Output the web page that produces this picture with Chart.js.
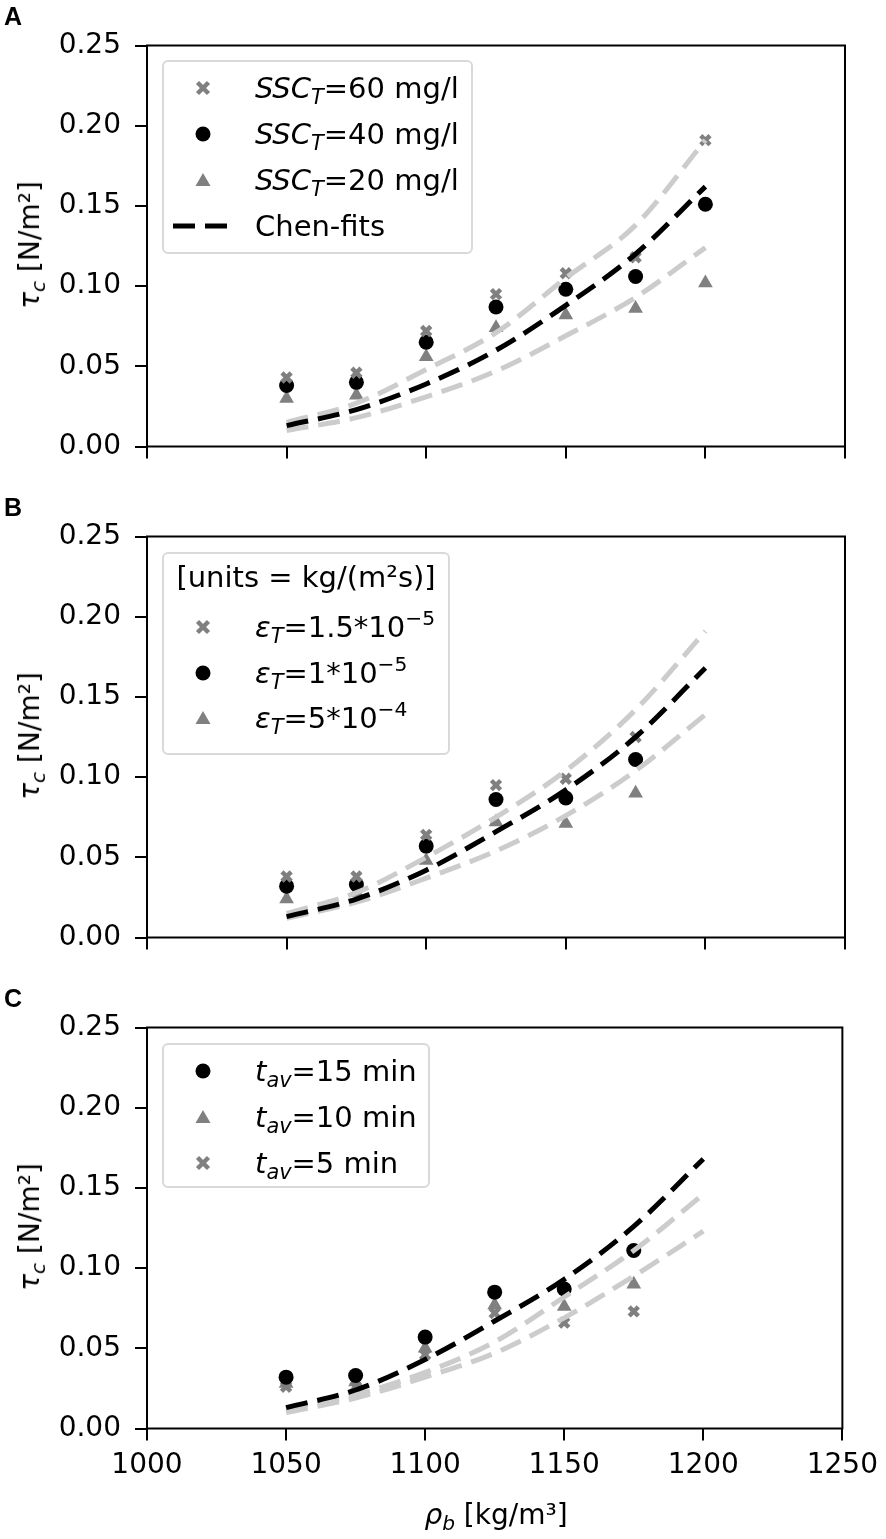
<!DOCTYPE html>
<html lang="en">
  <head>
    <meta charset="utf-8" />
    <title>Critical shear stress vs bulk density</title>
    <style>
      * {
        margin: 0;
        padding: 0;
      }
      body {
        width: 886px;
        height: 1539px;
        position: relative;
        background: #fff;
        color: #000;
        font-family: "DejaVu Sans", sans-serif;
        overflow: hidden;
      }
      .panel {
        position: absolute;
        left: 0;
        width: 886px;
      }
      .letter {
        position: absolute;
        left: 4px;
        font: bold 25px "Liberation Sans", Arial, sans-serif;
        line-height: 1;
      }
      .ytitle {
        position: absolute;
        left: 30px;
        font-size: 28px;
        line-height: 1;
        white-space: nowrap;
        transform: translate(-50%, -50%) rotate(-90deg);
      }
      .xtitle {
        position: absolute;
        left: 496px;
        top: 1515px;
        font-size: 28px;
        line-height: 1;
        white-space: nowrap;
        transform: translate(-50%, -50%);
      }
      .legend {
        position: absolute;
        left: 162px;
        box-sizing: border-box;
        border: 2px solid #d9d9d9;
        border-radius: 6px;
        background: rgba(255, 255, 255, 0.8);
      }
      .row {
        position: absolute;
        left: 0;
        width: 100%;
        height: 46px;
        font-size: 29px;
        white-space: nowrap;
      }
      .mk {
        position: absolute;
        left: 39px;
        top: 23px;
        transform: translate(-50%, -50%);
        line-height: 0;
      }
      .txt {
        position: absolute;
        left: 91px;
        top: 23px;
        line-height: 1;
        transform: translateY(-50%);
      }
      .ttl {
        position: absolute;
        left: 0;
        width: 100%;
        top: 23px;
        text-align: center;
        line-height: 1;
        transform: translateY(-50%);
      }
      sub {
        font-size: 0.72em;
        vertical-align: -0.3em;
        line-height: 0;
      }
      sup {
        font-size: 0.7em;
        vertical-align: 0.55em;
        line-height: 0;
      }
    </style>
  </head>
  <body>
    <div class="panel" style="top: 0; height: 491px"><canvas id="chartA"></canvas></div>
    <div class="panel" style="top: 491px; height: 491px"><canvas id="chartB"></canvas></div>
    <div class="panel" style="top: 982px; height: 557px"><canvas id="chartC"></canvas></div>

    <div class="letter" style="top: 4px">A</div>
    <div class="letter" style="top: 495px">B</div>
    <div class="letter" style="top: 986px">C</div>

    <div class="ytitle" style="top: 245px"><i>τ<sub>c</sub></i> [N/m²]</div>
    <div class="ytitle" style="top: 736px"><i>τ<sub>c</sub></i> [N/m²]</div>
    <div class="ytitle" style="top: 1227px"><i>τ<sub>c</sub></i> [N/m²]</div>
    <div class="xtitle"><i>ρ<sub>b</sub></i> [kg/m³]</div>

    <!-- legend A -->
    <div class="legend" style="top: 60px; width: 311px; height: 194px">
      <div class="row" style="top: 3px">
        <span class="mk"><svg width="16" height="16"><path d="M2.5 2.5L13.5 13.5M13.5 2.5L2.5 13.5" stroke="#808080" stroke-width="4.5" /></svg></span>
        <span class="txt"><i>SSC<sub>T</sub></i>=60 mg/l</span>
      </div>
      <div class="row" style="top: 49px">
        <span class="mk"><svg width="16" height="16"><circle cx="8" cy="8" r="7.5" fill="#000" /></svg></span>
        <span class="txt"><i>SSC<sub>T</sub></i>=40 mg/l</span>
      </div>
      <div class="row" style="top: 95px">
        <span class="mk"><svg width="16" height="16"><polygon points="8,1 15.5,14 0.5,14" fill="#808080" /></svg></span>
        <span class="txt"><i>SSC<sub>T</sub></i>=20 mg/l</span>
      </div>
      <div class="row" style="top: 141px">
        <span class="mk"><svg width="60" height="10"><line x1="0" y1="5" x2="58" y2="5" stroke="#000" stroke-width="5" stroke-dasharray="22 10" /></svg></span>
        <span class="txt">Chen-fits</span>
      </div>
    </div>

    <!-- legend B -->
    <div class="legend" style="top: 552px; width: 288px; height: 203px">
      <div class="row" style="top: 0px">
        <span class="ttl">[units = kg/(m²s)]</span>
      </div>
      <div class="row" style="top: 50px">
        <span class="mk"><svg width="16" height="16"><path d="M2.5 2.5L13.5 13.5M13.5 2.5L2.5 13.5" stroke="#808080" stroke-width="4.5" /></svg></span>
        <span class="txt"><i>ε<sub>T</sub></i>=1.5*10<sup>−5</sup></span>
      </div>
      <div class="row" style="top: 96px">
        <span class="mk"><svg width="16" height="16"><circle cx="8" cy="8" r="7.5" fill="#000" /></svg></span>
        <span class="txt"><i>ε<sub>T</sub></i>=1*10<sup>−5</sup></span>
      </div>
      <div class="row" style="top: 141px">
        <span class="mk"><svg width="16" height="16"><polygon points="8,1 15.5,14 0.5,14" fill="#808080" /></svg></span>
        <span class="txt"><i>ε<sub>T</sub></i>=5*10<sup>−4</sup></span>
      </div>
    </div>

    <!-- legend C -->
    <div class="legend" style="top: 1043px; width: 268px; height: 145px">
      <div class="row" style="top: 3px">
        <span class="mk"><svg width="16" height="16"><circle cx="8" cy="8" r="7.5" fill="#000" /></svg></span>
        <span class="txt"><i>t<sub>av</sub></i>=15 min</span>
      </div>
      <div class="row" style="top: 49px">
        <span class="mk"><svg width="16" height="16"><polygon points="8,1 15.5,14 0.5,14" fill="#808080" /></svg></span>
        <span class="txt"><i>t<sub>av</sub></i>=10 min</span>
      </div>
      <div class="row" style="top: 95px">
        <span class="mk"><svg width="16" height="16"><path d="M2.5 2.5L13.5 13.5M13.5 2.5L2.5 13.5" stroke="#808080" stroke-width="4.5" /></svg></span>
        <span class="txt"><i>t<sub>av</sub></i>=5 min</span>
      </div>
    </div>

    <script src="https://cdn.jsdelivr.net/npm/chart.js"></script>
    <script>
      // axis ticks
      const xTicks = [1000, 1050, 1100, 1150, 1200, 1250];
      const yTicks = [0, 0.05, 0.1, 0.15, 0.2, 0.25];

      // bulk density (kg/m3)
      const rho = [1050, 1075, 1100, 1125, 1150, 1175, 1200];

      // panel A - SSC_T
      const aSsc60 = [0.043, 0.046, 0.072, 0.095, 0.108, 0.118, 0.191];
      const aSsc40 = [0.038, 0.040, 0.065, 0.087, 0.098, 0.106, 0.151];
      const aSsc20 = [0.030, 0.032, 0.056, 0.074, 0.082, 0.086, 0.102];
      const aFitMid = [0.013, 0.023, 0.039, 0.060, 0.088, 0.120, 0.162];
      const aFitHigh = [0.015, 0.027, 0.048, 0.071, 0.105, 0.138, 0.191];
      const aFitLow = [0.010, 0.018, 0.031, 0.047, 0.069, 0.093, 0.124];

      // panel B - epsilon_T
      const bEps15 = [0.038, 0.038, 0.064, 0.095, 0.099, 0.125];
      const bEps10 = [0.032, 0.033, 0.057, 0.086, 0.087, 0.111];
      const bEps5 = [0.024, 0.028, 0.048, 0.072, 0.071, 0.090];
      const bFitMid = [0.013, 0.024, 0.042, 0.066, 0.092, 0.125, 0.168];
      const bFitHigh = [0.015, 0.028, 0.050, 0.075, 0.104, 0.142, 0.191];
      const bFitLow = [0.012, 0.022, 0.037, 0.054, 0.076, 0.104, 0.139];

      // panel C - t_av
      const cT15 = [0.032, 0.033, 0.057, 0.085, 0.087, 0.111];
      const cT10 = [0.028, 0.029, 0.050, 0.077, 0.076, 0.090];
      const cT5 = [0.026, 0.026, 0.046, 0.072, 0.066, 0.073];
      const cFitMid = [0.013, 0.024, 0.043, 0.067, 0.093, 0.126, 0.168];
      const cFitA = [0.012, 0.021, 0.035, 0.054, 0.082, 0.111, 0.146];
      const cFitB = [0.010, 0.019, 0.032, 0.047, 0.069, 0.095, 0.123];

      Chart.defaults.font.family = "'DejaVu Sans', sans-serif";
      Chart.defaults.font.size = 28;
      Chart.defaults.color = "#000";

      const pts = (ys) => ys.map((y, i) => ({ x: rho[i], y }));

      const fit = (ys, color) => ({
        data: pts(ys),
        showLine: true,
        borderColor: color,
        borderWidth: 5,
        borderDash: [22, 10],
        pointRadius: 0,
        cubicInterpolationMode: "monotone",
      });

      const cross = (ys) => ({
        data: pts(ys),
        pointStyle: "crossRot",
        pointRadius: 6.5,
        borderColor: "#808080",
        borderWidth: 4.5,
        backgroundColor: "#808080",
      });
      const dot = (ys) => ({
        data: pts(ys),
        pointStyle: "circle",
        pointRadius: 7.5,
        backgroundColor: "#000",
        borderWidth: 0,
      });
      const tri = (ys) => ({
        data: pts(ys),
        pointStyle: "triangle",
        pointRadius: 8.5,
        backgroundColor: "#808080",
        borderWidth: 0,
      });

      // full box round the plot area
      const frame = {
        id: "frame",
        afterDraw(chart) {
          const { ctx, chartArea: a } = chart;
          ctx.save();
          ctx.strokeStyle = "#000";
          ctx.lineWidth = 2;
          ctx.strokeRect(a.left, a.top, a.right - a.left, a.bottom - a.top);
          ctx.restore();
        },
      };

      function makeChart(id, datasets, showXLabels, xHeight) {
        return new Chart(document.getElementById(id), {
          type: "scatter",
          data: { datasets },
          options: {
            responsive: true,
            maintainAspectRatio: false,
            animation: false,
            layout: { padding: { left: 0, right: 41, top: 45.5, bottom: 0 } },
            plugins: { legend: { display: false }, tooltip: { enabled: false } },
            scales: {
              x: {
                type: "linear",
                min: 1000,
                max: 1250,
                afterBuildTicks: (s) => {
                  s.ticks = xTicks.map((v) => ({ value: v }));
                },
                afterFit: (s) => {
                  s.height = xHeight;
                },
                border: { display: false },
                grid: { drawOnChartArea: false, color: "#000", lineWidth: 2, tickLength: 12 },
                ticks: { display: showXLabels, padding: 8, callback: (v) => String(v) },
              },
              y: {
                type: "linear",
                min: 0,
                max: 0.25,
                afterBuildTicks: (s) => {
                  s.ticks = yTicks.map((v) => ({ value: v }));
                },
                afterFit: (s) => {
                  s.width = 147;
                },
                border: { display: false },
                grid: { drawOnChartArea: false, color: "#000", lineWidth: 2, tickLength: 12 },
                ticks: { padding: 14, callback: (v) => v.toFixed(2) },
              },
            },
          },
          plugins: [frame],
        });
      }

      makeChart(
        "chartA",
        [fit(aFitMid, "#000"), fit(aFitHigh, "#cccccc"), fit(aFitLow, "#cccccc"), cross(aSsc60), dot(aSsc40), tri(aSsc20)],
        false,
        44.5
      );
      makeChart(
        "chartB",
        [fit(bFitMid, "#000"), fit(bFitHigh, "#cccccc"), fit(bFitLow, "#cccccc"), cross(bEps15), dot(bEps10), tri(bEps5)],
        false,
        44.5
      );
      makeChart(
        "chartC",
        [fit(cFitMid, "#000"), fit(cFitA, "#cccccc"), fit(cFitB, "#cccccc"), dot(cT15), tri(cT10), cross(cT5)],
        true,
        110.5
      );
    </script>
  </body>
</html>
